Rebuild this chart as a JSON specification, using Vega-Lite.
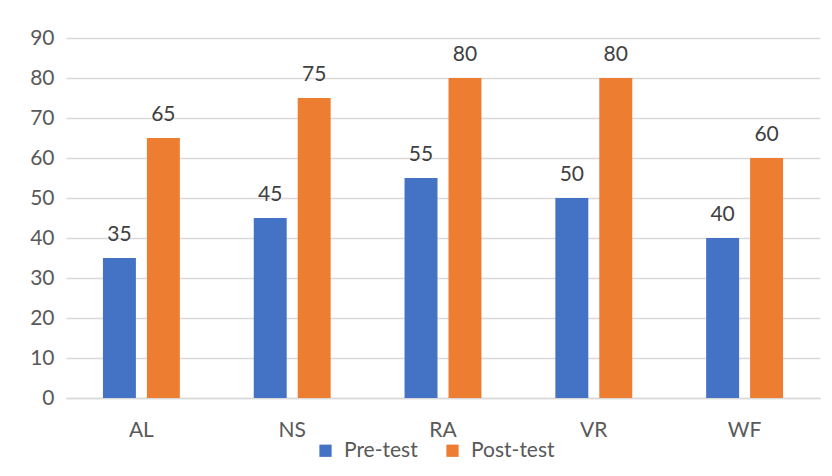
{
  "$schema": "https://vega.github.io/schema/vega-lite/v6.json",
  "width": 754,
  "height": 360,
  "autosize": {"type": "none"},
  "padding": {"left": 66, "top": 38, "right": 12, "bottom": 78},
  "background": "white",
  "config": {
    "view": {"stroke": null},
    "font": "Lato",
    "axis": {"labelFont": "Lato", "labelColor": "#595959", "labelFontSize": 21},
    "legend": {"labelFont": "Lato", "labelColor": "#595959", "labelFontSize": 21}
  },
  "data": {
    "values": [
      {"skill": "AL", "test": "Pre-test", "score": 35},
      {"skill": "AL", "test": "Post-test", "score": 65},
      {"skill": "NS", "test": "Pre-test", "score": 45},
      {"skill": "NS", "test": "Post-test", "score": 75},
      {"skill": "RA", "test": "Pre-test", "score": 55},
      {"skill": "RA", "test": "Post-test", "score": 80},
      {"skill": "VR", "test": "Pre-test", "score": 50},
      {"skill": "VR", "test": "Post-test", "score": 80},
      {"skill": "WF", "test": "Pre-test", "score": 40},
      {"skill": "WF", "test": "Post-test", "score": 60}
    ]
  },
  "encoding": {
    "x": {
      "field": "skill", "type": "nominal", "title": null,
      "scale": {"paddingInner": 0.49, "paddingOuter": 0.245},
      "axis": {"labelAngle": 0, "ticks": false, "domainColor": "#d9d9d9", "domainWidth": 1.5, "labelPadding": 21, "grid": false}
    },
    "xOffset": {
      "field": "test", "type": "nominal", "sort": ["Pre-test", "Post-test"],
      "scale": {"paddingInner": 0.25, "paddingOuter": 0}
    },
    "y": {
      "field": "score", "type": "quantitative", "title": null,
      "scale": {"domain": [0, 90]},
      "axis": {"values": [0,10,20,30,40,50,60,70,80,90], "ticks": false, "domain": false, "gridColor": "#d9d9d9", "gridWidth": 1.5, "labelPadding": 12}
    }
  },
  "layer": [
    {
      "mark": {"type": "bar"},
      "encoding": {
        "color": {
          "field": "test", "type": "nominal", "sort": ["Pre-test", "Post-test"],
          "scale": {"domain": ["Pre-test", "Post-test"], "range": ["#4472C4", "#ED7D31"]},
          "legend": {"title": null, "orient": "none", "legendX": 249, "legendY": 402, "direction": "horizontal", "symbolType": "square", "symbolSize": 150, "columnPadding": 24, "labelOffset": 8, "symbolStrokeWidth": 0}
        }
      }
    },
    {
      "mark": {"type": "text", "baseline": "alphabetic", "dy": -17, "fontSize": 21, "color": "#404040", "font": "Lato"},
      "encoding": {"text": {"field": "score", "type": "quantitative"}}
    }
  ]
}
